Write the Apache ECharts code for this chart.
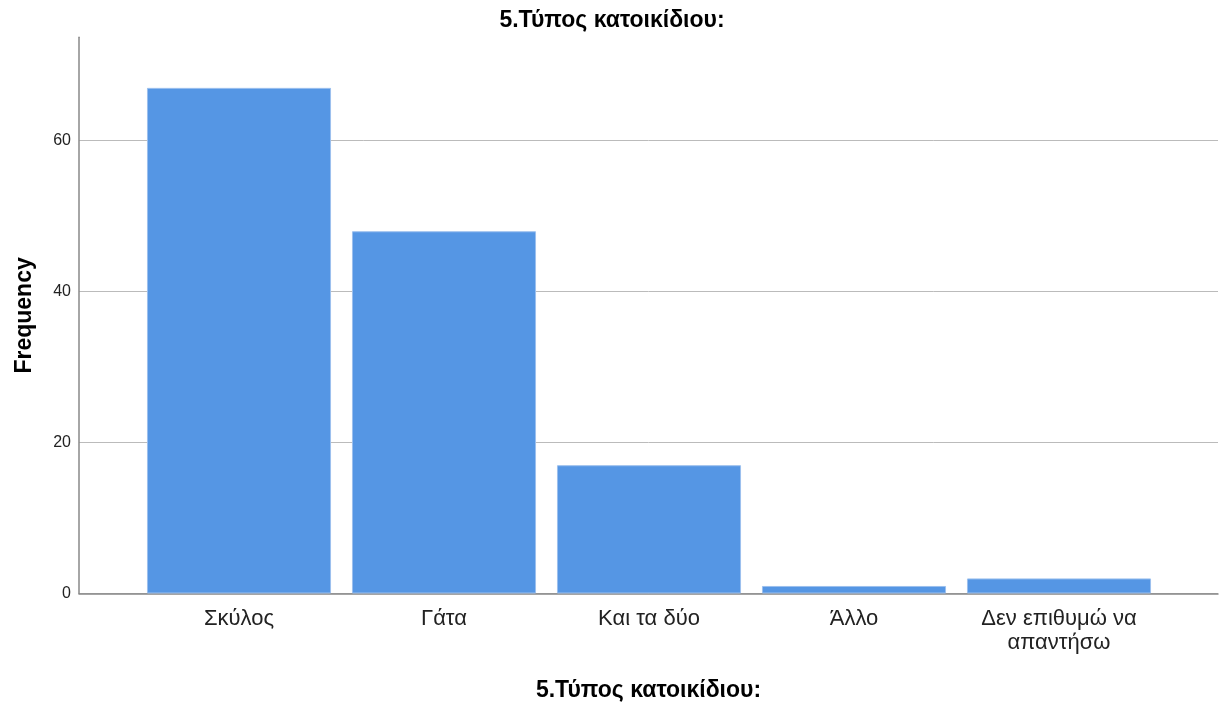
<!DOCTYPE html>
<html>
<head>
<meta charset="utf-8">
<script src="https://cdn.jsdelivr.net/npm/echarts@6/dist/echarts.min.js"></script>
<style>html,body{margin:0;padding:0;background:#fff}#c{width:1224px;height:704px}</style>
</head>
<body>
<div id="c"></div>
<script>
const title = '5.Τύπος κατοικίδιου:';
const categories = ['Σκύλος', 'Γάτα', 'Και τα δύο', 'Άλλο', 'Δεν επιθυμώ να\nαπαντήσω'];
const frequencies = [67, 48, 17, 1, 2];
const yTicks = [0, 20, 40, 60];

const yMax = 73.7;
const font = '"Liberation Sans", Arial, sans-serif';
const chart = echarts.init(document.getElementById('c'));
chart.setOption({
  animation: false,
  title: {
    text: title, left: 'center', top: 4,
    textStyle: { fontFamily: font, fontSize: 23, fontWeight: 'bold', color: '#000' }
  },
  grid: [
    { left: 79, right: 6, top: 37.3, bottom: 110.5, containLabel: false, outerBoundsMode: 'none' },
    { left: 136.5, right: 62.5, top: 37.3, bottom: 110.5, containLabel: false, outerBoundsMode: 'none' }
  ],
  xAxis: [
    { gridIndex: 0, type: 'value', min: 0, max: 1,
      axisLine: { show: true, lineStyle: { color: '#888', width: 1.5 } },
      axisTick: { show: false }, axisLabel: { show: false }, splitLine: { show: false },
      name: title, nameLocation: 'middle', nameGap: 86,
      nameTextStyle: { fontFamily: font, fontSize: 23, fontWeight: 'bold', color: '#000' } },
    { gridIndex: 1, type: 'category', data: categories,
      axisLine: { show: false }, axisTick: { show: false },
      axisLabel: { fontFamily: font, fontSize: 22, color: '#222', margin: 13, lineHeight: 24, interval: 0 } }
  ],
  yAxis: [
    { gridIndex: 0, type: 'value', min: 0, max: yMax, interval: 20,
      axisLine: { show: true, lineStyle: { color: '#888', width: 1.5 } },
      axisTick: { show: false },
      axisLabel: { fontFamily: font, fontSize: 16, color: '#222', margin: 8,
        formatter: v => yTicks.includes(v) ? String(v) : '' },
      splitLine: { show: true, showMaxLine: false, lineStyle: { color: '#bbb', width: 1 } },
      name: 'Frequency', nameLocation: 'middle', nameGap: 43, nameRotate: 90,
      nameTextStyle: { fontFamily: font, fontSize: 23, fontWeight: 'bold', color: '#000' } },
    { gridIndex: 1, type: 'value', min: 0, max: yMax, show: false }
  ],
  series: [{
    type: 'bar', xAxisIndex: 1, yAxisIndex: 1,
    data: frequencies, barCategoryGap: '10.2%',
    itemStyle: { color: '#5596e4', borderColor: '#9cc0ee', borderWidth: 1 }
  }]
});
</script>
</body>
</html>
